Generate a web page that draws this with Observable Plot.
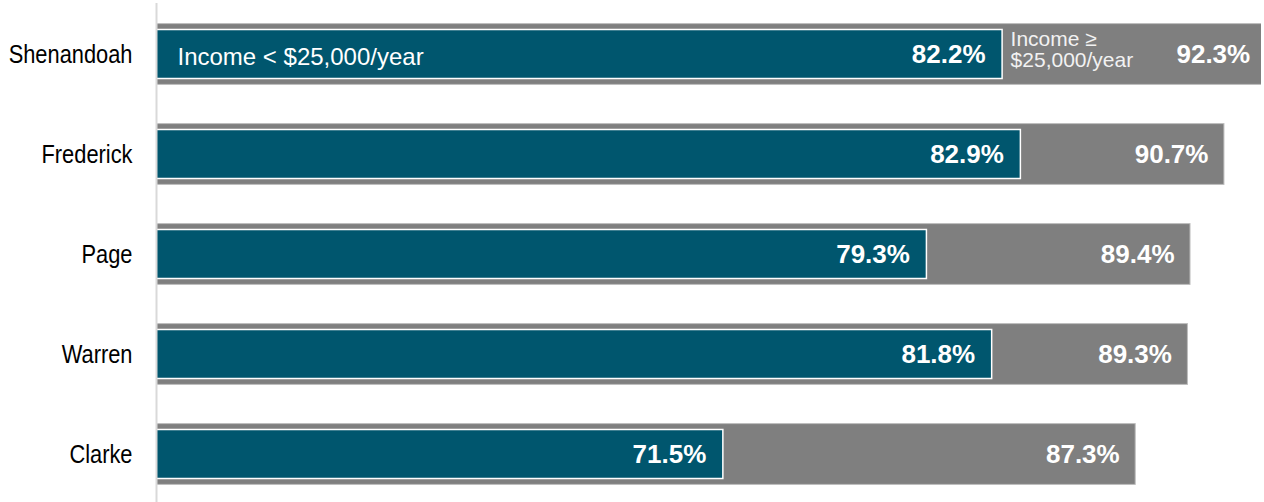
<!DOCTYPE html>
<html>
<head>
<meta charset="utf-8">
<script src="https://cdn.jsdelivr.net/npm/d3@7"></script>
<script src="https://cdn.jsdelivr.net/npm/@observablehq/plot@0.6"></script>
<style>
  html, body { margin: 0; padding: 0; background: #ffffff; }
  #chart svg { display: block; }
</style>
</head>
<body>
<div id="chart"></div>
<script>
// Data
const counties = ["Shenandoah", "Frederick", "Page", "Warren", "Clarke"];
const lowIncome = [82.2, 82.9, 79.3, 81.8, 71.5];   // Income < $25,000/year
const highIncome = [92.3, 90.7, 89.4, 89.3, 87.3];  // Income >= $25,000/year
const lowLabel = "Income < $25,000/year";
const highLabel = "Income ≥\n$25,000/year";

const rows = counties.map((county, i) => ({ county, low: lowIncome[i], high: highIncome[i] }));

const xDomain = [49.78, 92.12];
const regular = "'Liberation Sans', Arial, sans-serif";
const fmt = v => v.toFixed(1) + "%";

const chart = Plot.plot({
  width: 1264,
  height: 502,
  marginLeft: 156,
  marginRight: 3,
  marginTop: 3,
  marginBottom: 0,
  style: { fontFamily: regular, background: "#ffffff" },
  x: { domain: xDomain, axis: null },
  y: { domain: counties, range: [3, 505.8], padding: 0, axis: null },
  marks: [
    Plot.barX(rows, {
      y: "county", x1: xDomain[0], x2: "high",
      fill: "#7f7f7f", stroke: "#bdbdbd", strokeWidth: 1,
      insetTop: 19.6, insetBottom: 19.6, clip: true
    }),
    Plot.barX(rows, {
      y: "county", x1: xDomain[0], x2: "low",
      fill: "#00566e", stroke: "#ffffff", strokeWidth: 1.5,
      insetTop: 25.5, insetBottom: 25.5
    }),
    Plot.ruleX([xDomain[0]], { stroke: "#d9d9d9", strokeWidth: 2 }),
    Plot.axisY({
      tickSize: 0, tickPadding: 24, fontSize: 26, fontFamily: regular,
      fill: "#000000", label: null
    }),
    Plot.text(rows, {
      y: "county", x: "low", text: d => fmt(d.low),
      textAnchor: "end", dx: -17, fill: "#ffffff",
      fontWeight: "bold", fontSize: 26, fontFamily: regular, ariaLabel: "pct"
    }),
    Plot.text(rows, {
      y: "county", x: "high", text: d => fmt(d.high),
      textAnchor: "end", dx: -16, fill: "#ffffff",
      fontWeight: "bold", fontSize: 26, fontFamily: regular, ariaLabel: "pct"
    }),
    Plot.text([lowLabel], {
      y: () => counties[0], x: () => xDomain[0], text: d => d,
      textAnchor: "start", dx: 21, dy: 3, fill: "#ffffff",
      fontSize: 24, fontFamily: regular
    }),
    Plot.text([highLabel], {
      y: () => counties[0], x: () => lowIncome[0], text: d => d,
      textAnchor: "start", dx: 8, dy: -5, lineHeight: 1.03, fill: "#f2f2f2",
      fontSize: 21, fontFamily: regular
    })
  ]
});

// Emulate a narrow (condensed) face: squeeze horizontally around each text's anchor
function squeeze(selector, s) {
  chart.querySelectorAll(selector).forEach(t => {
    const x = +(t.getAttribute("x") || 0);
    const tr = t.getAttribute("transform") || "";
    t.setAttribute("transform", `${tr} translate(${x},0) scale(${s},1) translate(${-x},0)`);
  });
}
squeeze('g[aria-label="y-axis tick label"] text', 0.84);
squeeze('g[aria-label="pct"] text', 0.82);

document.getElementById("chart").append(chart);
</script>
</body>
</html>
